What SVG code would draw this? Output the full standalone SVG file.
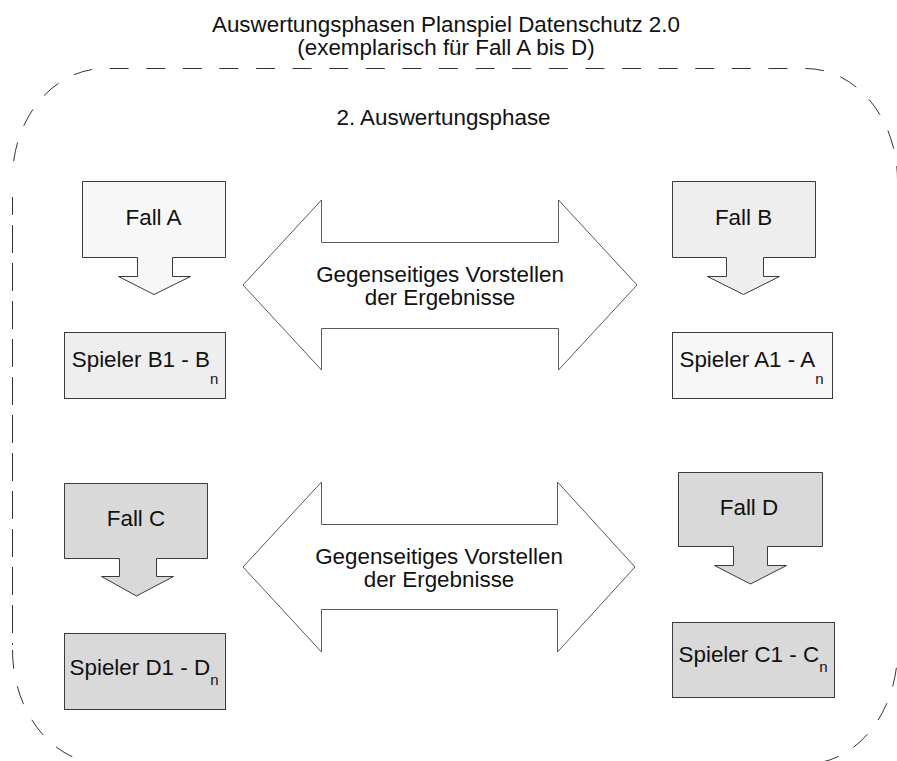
<svg xmlns="http://www.w3.org/2000/svg" width="897" height="761" viewBox="0 0 897 761">
  <style>
    text { font-family: "Liberation Sans", Arial, sans-serif; font-size: 22.4px; fill: #111; }
    .mid { text-anchor: middle; }
    .sub { font-size: 15px; }
    .box { stroke: #3a3a3a; stroke-width: 1; }
    .light { fill: #f7f7f7; }
    .pale { fill: #eeeeee; }
    .grey { fill: #d9d9d9; }
    .frame { fill: none; stroke: #333; stroke-width: 1; }
    .dash-curve { stroke-dasharray: 19 17.6; }
    .dash-side { stroke-dasharray: 28 10; }
    .exchange { fill: #fff; stroke: #5a5a5a; stroke-width: 1; }
  </style>

  <!-- Title -->
  <g id="title">
    <text class="mid" x="446" y="32">Auswertungsphasen Planspiel Datenschutz 2.0</text>
    <text class="mid" x="446" y="55">(exemplarisch für Fall A bis D)</text>
  </g>

  <!-- Dashed rounded frame of the evaluation phase (right and bottom edges run past the canvas) -->
  <g id="phase-frame">
    <path class="frame dash-curve" stroke-dashoffset="20.6" d="M12.5,177 A92,110 0 0 1 104.5,68.5 H805.5 A92,112 0 0 1 897.5,180"/>
    <path class="frame dash-side" stroke-dashoffset="10" d="M12.5,197 V645"/>
    <path class="frame dash-side" d="M897.5,180 V652"/>
    <path class="frame dash-curve" d="M12.5,650 A92,114 0 0 0 104.5,764 H805.5 A92,114 0 0 0 897.5,652"/>
    <text class="mid" x="443.5" y="125">2. Auswertungsphase</text>
  </g>

  <!-- Case A -->
  <g id="fall-a">
    <path class="box light" d="M82.5,181.5 H225.5 V257.5 H172.5 V276.5 H190.5 L154,294.5 L118.5,276.5 H137.5 V257.5 H82.5 Z"/>
    <text class="mid" x="153.5" y="225">Fall A</text>
  </g>
  <g id="spieler-b">
    <rect class="box pale" x="64.5" y="332.5" width="161" height="66"/>
    <text class="mid" x="145" y="367">Spieler B1 - B<tspan class="sub" dy="17">n</tspan></text>
  </g>

  <!-- Case B -->
  <g id="fall-b">
    <path class="box pale" d="M672.5,181.5 H815.5 V257.5 H763.5 V276.5 H779.5 L743.5,294.5 L707.5,276.5 H726.5 V257.5 H672.5 Z"/>
    <text class="mid" x="743.5" y="225">Fall B</text>
  </g>
  <g id="spieler-a">
    <rect class="box light" x="672.5" y="332.5" width="160" height="66"/>
    <text class="mid" x="751.5" y="367">Spieler A1 - A<tspan class="sub" dy="17">n</tspan></text>
  </g>

  <!-- Case C -->
  <g id="fall-c">
    <path class="box grey" d="M64.5,483.5 H207.5 V558.5 H156.5 V576.5 H173.5 L136.5,596 L101.5,576.5 H119.5 V558.5 H64.5 Z"/>
    <text class="mid" x="136" y="526">Fall C</text>
  </g>
  <g id="spieler-d">
    <rect class="box grey" x="64.5" y="633.5" width="161" height="76"/>
    <text class="mid" x="144" y="675">Spieler D1 - D<tspan class="sub" dy="10">n</tspan></text>
  </g>

  <!-- Case D -->
  <g id="fall-d">
    <path class="box grey" d="M678.5,472.5 H822.5 V546.5 H767.5 V565.5 H786.5 L750.5,584 L714.5,565.5 H733.5 V546.5 H678.5 Z"/>
    <text class="mid" x="749" y="515">Fall D</text>
  </g>
  <g id="spieler-c">
    <rect class="box grey" x="672.5" y="622.5" width="162" height="75"/>
    <text class="mid" x="753" y="662">Spieler C1 - C<tspan class="sub" dy="10">n</tspan></text>
  </g>

  <!-- Two-way exchange arrows between the paired cases -->
  <g id="connectors">
    <g id="exchange-ab">
      <path class="exchange" d="M243,285 L321.5,200 V242.5 H558.5 V200 L637,285 L558.5,370 V328.5 H321.5 V370 Z"/>
      <text class="mid" x="440" y="282">Gegenseitiges Vorstellen</text>
      <text class="mid" x="440" y="305">der Ergebnisse</text>
    </g>
    <g id="exchange-cd">
      <path class="exchange" d="M243,567 L321.5,482 V524.5 H557.5 V482 L635,567 L557.5,652 V609.5 H321.5 V652 Z"/>
      <text class="mid" x="439" y="564">Gegenseitiges Vorstellen</text>
      <text class="mid" x="439" y="587">der Ergebnisse</text>
    </g>
  </g>
</svg>
